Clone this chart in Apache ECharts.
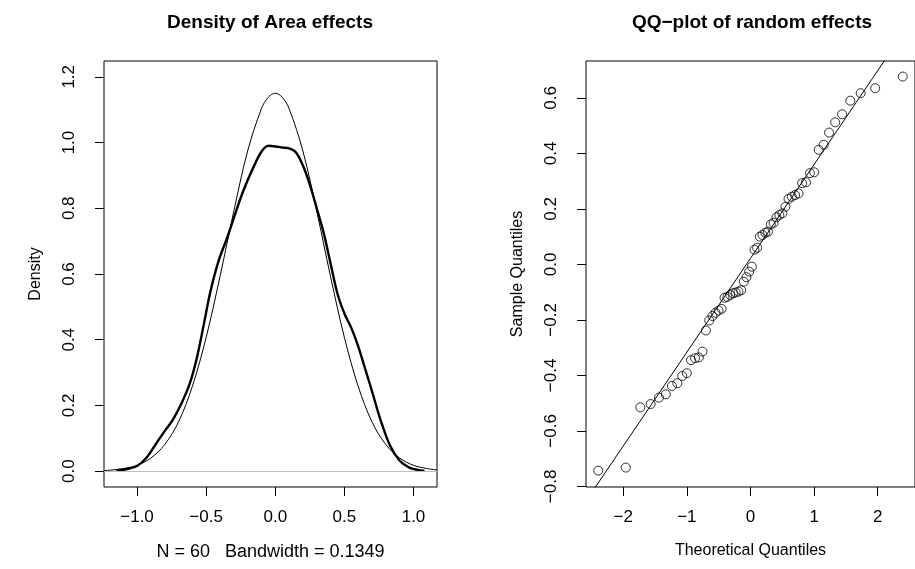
<!DOCTYPE html>
<html lang="en">
<head>
    <meta charset="UTF-8">
    <title>Density and QQ-plot of random effects</title>
</head>
<body style="margin:0;background:#fff">
<div id="main" style="width: 915px;height:569px;"></div>
</body>
<script src="https://cdn.jsdelivr.net/npm/echarts@6/dist/echarts.min.js"></script>
<script>
    // kernel density of the area effects (thick line)
    var kdeX = [-1.15, -1.08, -1.0, -0.93, -0.86, -0.79, -0.74, -0.68, -0.62, -0.57, -0.52, -0.47, -0.41, -0.35, -0.30, -0.25, -0.20, -0.15, -0.10, -0.05,
        0.0, 0.05, 0.10, 0.15, 0.20, 0.25, 0.30, 0.35, 0.40, 0.45, 0.50, 0.55, 0.60, 0.65, 0.70, 0.76, 0.83, 0.90, 0.97, 1.03, 1.08];
    var kdeY = [0.002, 0.006, 0.016, 0.042, 0.085, 0.128, 0.157, 0.205, 0.265, 0.340, 0.440, 0.545, 0.640, 0.708, 0.770, 0.832, 0.885, 0.932, 0.972, 0.990,
        0.988, 0.985, 0.982, 0.970, 0.930, 0.872, 0.800, 0.725, 0.632, 0.540, 0.480, 0.436, 0.380, 0.312, 0.243, 0.158, 0.078, 0.032, 0.011, 0.004, 0.001];

    // normal density overlay (thin line)
    var normX = [-1.24, -1.2, -1.1, -1.0, -0.9, -0.8, -0.7, -0.6, -0.5, -0.4, -0.3, -0.2, -0.1, -0.05, 0.0,
        0.05, 0.1, 0.2, 0.3, 0.4, 0.5, 0.6, 0.7, 0.8, 0.9, 1.0, 1.1, 1.17];
    var normY = [0.002, 0.003, 0.008, 0.018, 0.040, 0.081, 0.150, 0.258, 0.407, 0.592, 0.791, 0.974, 1.103, 1.138, 1.150,
        1.138, 1.103, 0.974, 0.791, 0.592, 0.407, 0.258, 0.150, 0.081, 0.040, 0.018, 0.008, 0.004];

    // QQ plot: theoretical vs sample quantiles (60 areas)
    var qqTheo = [-2.394, -1.960, -1.732, -1.569, -1.440, -1.331, -1.235, -1.150, -1.073, -1.001,
        -0.935, -0.872, -0.812, -0.755, -0.701, -0.649, -0.598, -0.549, -0.501, -0.454,
        -0.408, -0.363, -0.319, -0.275, -0.232, -0.189, -0.147, -0.105, -0.063, -0.021,
        0.021, 0.063, 0.105, 0.147, 0.189, 0.232, 0.275, 0.319, 0.363, 0.408,
        0.454, 0.501, 0.549, 0.598, 0.649, 0.701, 0.755, 0.812, 0.872, 0.935,
        1.001, 1.073, 1.150, 1.235, 1.331, 1.440, 1.569, 1.732, 1.960, 2.394];
    var qqSample = [-0.743, -0.732, -0.515, -0.503, -0.480, -0.468, -0.438, -0.428, -0.402, -0.392,
        -0.345, -0.338, -0.335, -0.314, -0.238, -0.202, -0.186, -0.174, -0.166, -0.160,
        -0.120, -0.117, -0.110, -0.104, -0.101, -0.098, -0.093, -0.062, -0.046, -0.026,
        -0.008, 0.053, 0.060, 0.100, 0.106, 0.114, 0.118, 0.144, 0.150, 0.170,
        0.178, 0.184, 0.208, 0.236, 0.244, 0.250, 0.256, 0.293, 0.296, 0.329,
        0.332, 0.413, 0.431, 0.475, 0.512, 0.541, 0.590, 0.617, 0.635, 0.677];
    // reference line through the quartiles
    var qqLineX = [-2.6, 2.7];
    var qqLineY = [-0.857, 0.935];

    // tick labels
    var densXTicks = [-1.0, -0.5, 0.0, 0.5, 1.0];
    var densYTicks = [0.0, 0.2, 0.4, 0.6, 0.8, 1.0, 1.2];
    var qqXTicks = [-2, -1, 0, 1, 2];
    var qqYTicks = [-0.8, -0.6, -0.4, -0.2, 0.0, 0.2, 0.4, 0.6];

    function pairs(xs, ys) {
        var out = [];
        for (var i = 0; i < xs.length; i++) {
            out.push([xs[i], ys[i]]);
        }
        return out;
    }

    function fmt(digits) {
        return function (v) {
            return Number(v).toFixed(digits).replace('-', '\u2212');
        };
    }

    var font = 'Liberation Sans, Arial, Helvetica, sans-serif';

    function valueAxis(grid, min, max, ticks, digits, name, isY, nameSize) {
        return {
            type: 'value',
            gridIndex: grid,
            min: min,
            max: max,
            name: name,
            nameLocation: 'middle',
            nameGap: isY ? 60 : 56,
            nameTextStyle: {color: '#000', fontSize: nameSize, fontFamily: font},
            axisLine: {show: false, onZero: false},
            axisTick: {show: true, length: 9, customValues: ticks, lineStyle: {color: '#000', width: 1}},
            axisLabel: {
                customValues: ticks,
                formatter: fmt(digits),
                rotate: isY ? 90 : 0,
                margin: isY ? 26 : 22,
                color: '#000',
                fontSize: 17,
                fontFamily: font
            },
            splitLine: {show: false}
        };
    }

    var app = echarts.init(document.getElementById('main'), null, {renderer: 'canvas'});
    var option = {
        backgroundColor: '#fff',
        animation: false,
        graphic: [
            {type: 'text', x: 270, y: 23, style: {text: 'Density of Area effects', textAlign: 'center', textVerticalAlign: 'middle', font: 'bold 19px ' + font, fill: '#000'}},
            {type: 'text', x: 752, y: 23, style: {text: 'QQ\u2212plot of random effects', textAlign: 'center', textVerticalAlign: 'middle', font: 'bold 19px ' + font, fill: '#000'}}
        ],
        grid: [
            {left: 104, top: 61, width: 333, height: 426, show: true, borderColor: '#000', borderWidth: 1, backgroundColor: 'transparent'},
            {left: 586, top: 61, width: 333, height: 426, show: true, borderColor: '#000', borderWidth: 1, backgroundColor: 'transparent'}
        ],
        xAxis: [
            valueAxis(0, -1.239, 1.170, densXTicks, 1, 'N = 60   Bandwidth = 0.1349', false, 18),
            valueAxis(1, -2.586, 2.586, qqXTicks, 0, 'Theoretical Quantiles', false, 16)
        ],
        yAxis: [
            valueAxis(0, -0.048, 1.248, densYTicks, 1, 'Density', true, 16),
            valueAxis(1, -0.802, 0.733, qqYTicks, 1, 'Sample Quantiles', true, 16)
        ],
        series: [
            {
                name: 'normal',
                type: 'line',
                xAxisIndex: 0,
                yAxisIndex: 0,
                data: pairs(normX, normY),
                smooth: 0.35,
                showSymbol: false,
                lineStyle: {color: '#000', width: 1},
                markLine: {
                    silent: true,
                    symbol: 'none',
                    label: {show: false},
                    lineStyle: {color: '#bebebe', width: 1, type: 'solid'},
                    data: [{yAxis: 0}]
                },
                z: 2
            },
            {
                name: 'kde',
                type: 'line',
                xAxisIndex: 0,
                yAxisIndex: 0,
                data: pairs(kdeX, kdeY),
                smooth: 0.35,
                showSymbol: false,
                lineStyle: {color: '#000', width: 2.4},
                z: 3
            },
            {
                name: 'qqline',
                type: 'line',
                xAxisIndex: 1,
                yAxisIndex: 1,
                data: pairs(qqLineX, qqLineY),
                showSymbol: false,
                clip: true,
                lineStyle: {color: '#000', width: 1}
            },
            {
                name: 'qq',
                type: 'scatter',
                xAxisIndex: 1,
                yAxisIndex: 1,
                data: pairs(qqTheo, qqSample),
                symbol: 'circle',
                symbolSize: 9,
                itemStyle: {color: 'transparent', borderColor: '#000', borderWidth: 1}
            }
        ]
    };
    app.setOption(option);
</script>
</html>
